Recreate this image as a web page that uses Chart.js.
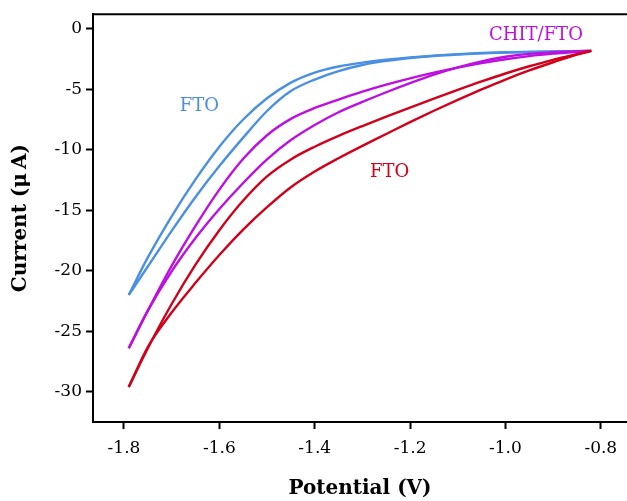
<!DOCTYPE html>
<html>
<head>
<meta charset="utf-8">
<script src="https://cdn.jsdelivr.net/npm/chart.js@4.4.1/dist/chart.umd.min.js"></script>
<style>
  html, body { margin: 0; padding: 0; background: #fff; overflow: hidden; }
  #wrap { width: 627px; height: 501px; }
</style>
</head>
<body>
<div id="wrap"><canvas id="cvChart" width="627" height="501"></canvas></div>
<script>
// potential sweep (V), shared by both branches of each loop
var potential = [-1.79, -1.75, -1.7, -1.65, -1.6, -1.55, -1.5, -1.45, -1.4, -1.35, -1.3,
                 -1.25, -1.2, -1.15, -1.1, -1.05, -1.0, -0.95, -0.9, -0.875, -0.85, -0.82];

// current (uA) - bare FTO, blue loop
var ftoBlueUpper = [-22.0, -18.9, -15.5, -12.45, -9.75, -7.5, -5.75, -4.45, -3.62, -3.12, -2.8,
                    -2.56, -2.37, -2.22, -2.1, -2.01, -1.95, -1.91, -1.88, -1.865, -1.85, -1.83];
var ftoBlueLower = [-22.0, -19.65, -16.7, -13.9, -11.35, -9.0, -6.8, -5.15, -4.2, -3.5, -3.0,
                    -2.66, -2.42, -2.25, -2.13, -2.04, -1.97, -1.92, -1.88, -1.865, -1.85, -1.83];

// CHIT/FTO, purple loop
var chitUpper = [-26.4, -23.3, -19.6, -16.3, -13.3, -10.75, -8.8, -7.45, -6.55, -5.85, -5.2,
                 -4.62, -4.1, -3.63, -3.21, -2.84, -2.52, -2.26, -2.06, -1.98, -1.91, -1.83];
var chitLower = [-26.4, -23.3, -20.05, -17.3, -14.9, -12.75, -10.8, -9.2, -7.95, -6.9, -6.05,
                 -5.25, -4.5, -3.8, -3.2, -2.7, -2.32, -2.08, -1.95, -1.9, -1.86, -1.83];

// FTO, red loop
var ftoRedUpper = [-29.6, -26.4, -22.75, -19.5, -16.65, -14.2, -12.2, -10.8, -9.75, -8.85, -8.04,
                   -7.27, -6.52, -5.78, -5.06, -4.36, -3.7, -3.1, -2.57, -2.33, -2.1, -1.83];
var ftoRedLower = [-29.6, -26.3, -23.45, -21.0, -18.7, -16.6, -14.75, -13.1, -11.8, -10.7, -9.68,
                   -8.7, -7.72, -6.78, -5.88, -5.02, -4.2, -3.45, -2.77, -2.45, -2.13, -1.83];

var xTicks = [-1.8, -1.6, -1.4, -1.2, -1.0, -0.8];
var yTicks = [0, -5, -10, -15, -20, -25, -30];

var curveLabels = [
  { text: 'FTO', x: -1.642, y: -6.4, color: '#4a90e2' },
  { text: 'CHIT/FTO', x: -0.936, y: -0.55, color: '#bd10e0' },
  { text: 'FTO', x: -1.243, y: -11.9, color: '#d0021b' }
];

function toPoints(ys) {
  return potential.map(function (p, i) { return { x: p, y: ys[i] }; });
}

function branch(ys, color) {
  return {
    data: toPoints(ys),
    borderColor: color,
    borderWidth: 2.4,
    pointRadius: 0,
    showLine: true,
    fill: false,
    cubicInterpolationMode: 'monotone'
  };
}

// text next to each loop
var curveLabelPlugin = {
  id: 'curveLabels',
  afterDatasetsDraw: function (chart) {
    var ctx = chart.ctx;
    var xs = chart.scales.x, ys = chart.scales.y;
    ctx.save();
    ctx.font = '18px "DejaVu Serif", serif';
    ctx.textAlign = 'center';
    ctx.textBaseline = 'middle';
    curveLabels.forEach(function (l) {
      ctx.fillStyle = l.color;
      ctx.fillText(l.text, xs.getPixelForValue(l.x), ys.getPixelForValue(l.y));
    });
    ctx.restore();
  }
};

// top frame line (the box has no right edge)
var topLinePlugin = {
  id: 'topLine',
  afterDraw: function (chart) {
    var ctx = chart.ctx, a = chart.chartArea;
    ctx.save();
    ctx.strokeStyle = '#000';
    ctx.lineWidth = 2;
    ctx.beginPath();
    ctx.moveTo(a.left - 1, a.top);
    ctx.lineTo(chart.width, a.top);
    ctx.stroke();
    ctx.restore();
  }
};

Chart.defaults.font.family = '"DejaVu Serif", serif';
Chart.defaults.color = '#000';

var ctx = document.getElementById('cvChart').getContext('2d');
var cvChart = new Chart(ctx, {
  type: 'scatter',
  data: {
    datasets: [
      branch(ftoRedUpper, '#d0021b'),
      branch(ftoRedLower, '#d0021b'),
      branch(chitUpper, '#bd10e0'),
      branch(chitLower, '#bd10e0'),
      branch(ftoBlueUpper, '#4a90e2'),
      branch(ftoBlueLower, '#4a90e2')
    ]
  },
  options: {
    responsive: false,
    devicePixelRatio: 1,
    animation: false,
    layout: { padding: { top: 12, right: 0, bottom: 0, left: 0 } },
    plugins: {
      legend: { display: false },
      tooltip: { enabled: false }
    },
    scales: {
      x: {
        type: 'linear',
        min: -1.865,
        max: -0.745,
        afterBuildTicks: function (scale) {
          scale.ticks = xTicks.map(function (v) { return { value: v }; });
        },
        afterFit: function (scale) { scale.height = 79; },
        grid: { display: true, drawOnChartArea: false, drawTicks: true,
                tickLength: 7, tickWidth: 2, tickColor: '#000' },
        border: { display: true, color: '#000', width: 2 },
        ticks: {
          font: { size: 17 },
          padding: 9,
          maxRotation: 0,
          callback: function (v) { return v.toFixed(1); }
        },
        title: {
          display: true,
          text: 'Potential (V)',
          font: { size: 20, weight: 'bold' },
          padding: { top: 0, bottom: 0 }
        }
      },
      y: {
        type: 'linear',
        min: -32.5,
        max: 1.2,
        afterBuildTicks: function (scale) {
          scale.ticks = yTicks.map(function (v) { return { value: v }; });
        },
        afterFit: function (scale) { scale.width = 93; },
        grid: { display: true, drawOnChartArea: false, drawTicks: true,
                tickLength: 7, tickWidth: 2, tickColor: '#000' },
        border: { display: true, color: '#000', width: 2 },
        ticks: {
          font: { size: 17 },
          padding: 4,
          callback: function (v) { return String(v); }
        },
        title: {
          display: true,
          text: 'Current (\u03bc\u2009A)',
          font: { size: 20, weight: 'bold' },
          padding: { top: 9, bottom: 0 }
        }
      }
    }
  },
  plugins: [curveLabelPlugin, topLinePlugin]
});
</script>
</body>
</html>
